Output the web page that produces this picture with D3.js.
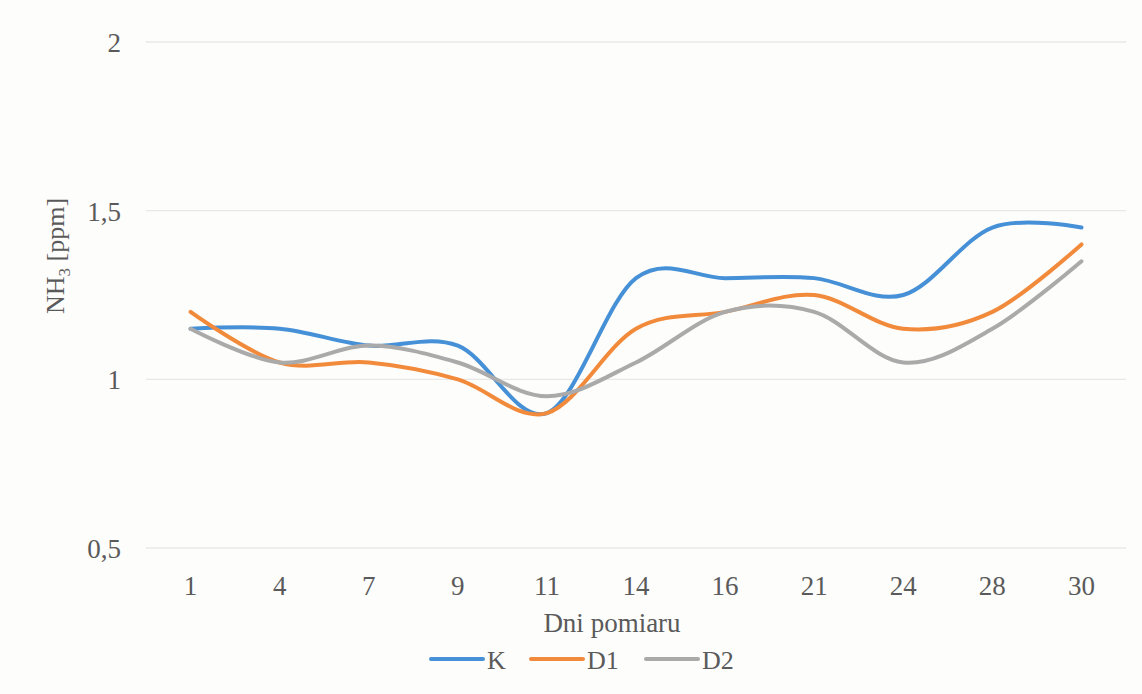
<!DOCTYPE html>
<html>
<head>
<meta charset="utf-8">
<script src="https://cdn.jsdelivr.net/npm/d3@7"></script>
<style>
  body { margin: 0; background: #fdfdfb; }
  svg text { font-family: "Liberation Serif", "Times New Roman", serif; fill: #5a5a5a; }
</style>
</head>
<body>
<svg id="chart" width="1142" height="694"></svg>
<script>
// data
var days = ["1", "4", "7", "9", "11", "14", "16", "21", "24", "28", "30"];
var K  = [1.15, 1.15, 1.10, 1.10, 0.90, 1.30, 1.30, 1.30, 1.25, 1.45, 1.45];
var D1 = [1.20, 1.05, 1.05, 1.00, 0.90, 1.15, 1.20, 1.25, 1.15, 1.20, 1.40];
var D2 = [1.15, 1.05, 1.10, 1.05, 0.95, 1.05, 1.20, 1.20, 1.05, 1.15, 1.35];
var yTicks = [0.5, 1, 1.5, 2];

var series = [
  {name: "K",  values: K,  color: "#4590d6"},
  {name: "D1", values: D1, color: "#f28a3c"},
  {name: "D2", values: D2, color: "#aaaaaa"}
];

var svg = d3.select("#chart");
var plotL = 146, plotR = 1126, plotT = 42, plotB = 548;

var x = d3.scalePoint().domain(days).range([plotL, plotR]).padding(0.5);
var y = d3.scaleLinear().domain([0.5, 2]).range([plotB, plotT]);

// gridlines
svg.append("g").selectAll("line")
  .data(yTicks).enter().append("line")
  .attr("x1", plotL).attr("x2", plotR)
  .attr("y1", function(d){ return y(d); })
  .attr("y2", function(d){ return y(d); })
  .style("stroke", "#e8e8e8").style("stroke-width", 1.3);

// y tick labels
svg.append("g").selectAll("text")
  .data(yTicks).enter().append("text")
  .attr("x", 121)
  .attr("y", function(d){ return y(d) + 10; })
  .attr("text-anchor", "end")
  .style("font-size", "27px")
  .text(function(d){ return String(d).replace(".", ","); });

// x tick labels
svg.append("g").selectAll("text")
  .data(days).enter().append("text")
  .attr("x", function(d){ return x(d); })
  .attr("y", 595)
  .attr("text-anchor", "middle")
  .style("font-size", "27px")
  .text(function(d){ return d; });

// axis titles
svg.append("text")
  .attr("x", 612).attr("y", 632)
  .attr("text-anchor", "middle")
  .style("font-size", "27px")
  .text("Dni pomiaru");

var yt = svg.append("text")
  .attr("transform", "translate(64,256) rotate(-90)")
  .attr("text-anchor", "middle")
  .style("font-size", "26px");
yt.append("tspan").text("NH");
yt.append("tspan").attr("dy", 6).style("font-size", "17px").text("3");
yt.append("tspan").attr("dy", -6).text(" [ppm]");

// lines
var line = d3.line()
  .x(function(d, i){ return x(days[i]); })
  .y(function(d){ return y(d); })
  .curve(d3.curveCardinal.tension(0));

svg.append("g").selectAll("path")
  .data(series).enter().append("path")
  .attr("d", function(s){ return line(s.values); })
  .style("fill", "none")
  .style("stroke", function(s){ return s.color; })
  .style("stroke-width", 4)
  .style("stroke-linecap", "round");

// legend
var legX = [431, 531, 646];
var leg = svg.append("g").selectAll("g")
  .data(series).enter().append("g")
  .attr("transform", function(s, i){ return "translate(" + legX[i] + ",659)"; });
leg.append("line")
  .attr("x1", 0).attr("x2", 52).attr("y1", 0).attr("y2", 0)
  .style("stroke", function(s){ return s.color; })
  .style("stroke-width", 4)
  .style("stroke-linecap", "round");
leg.append("text")
  .attr("x", 56).attr("y", 10)
  .style("font-size", "26px")
  .text(function(s){ return s.name; });
</script>
</body>
</html>
